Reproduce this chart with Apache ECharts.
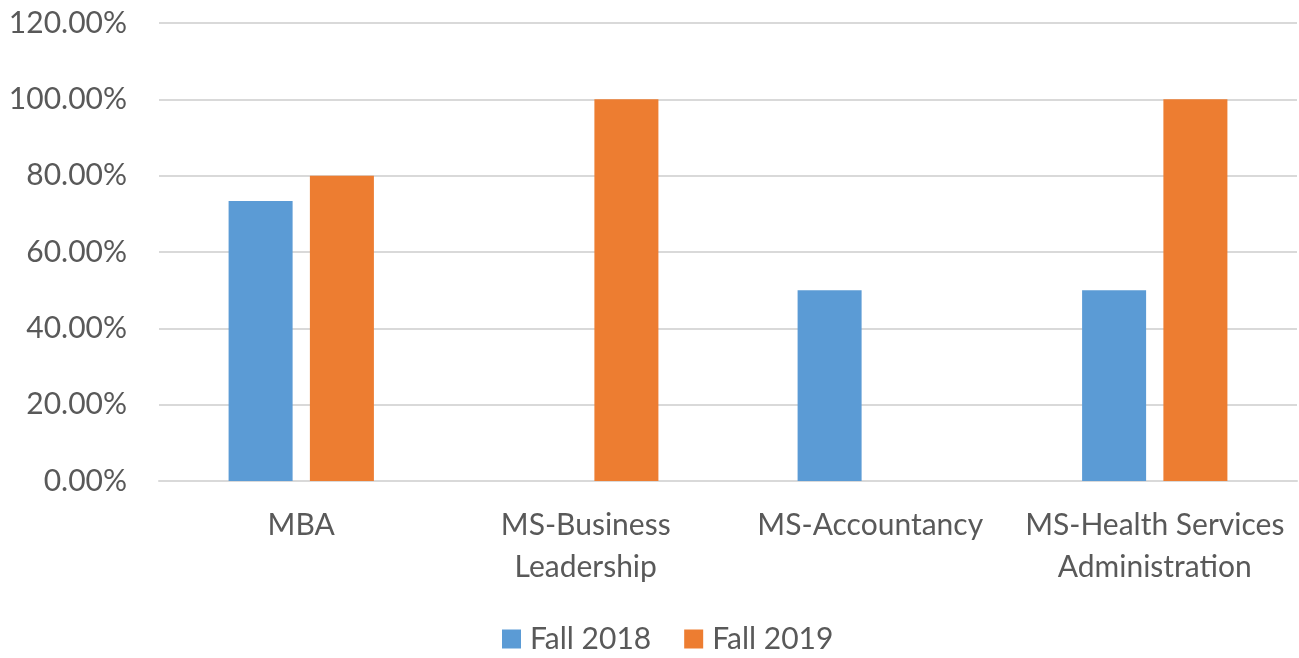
<!DOCTYPE html>
<html>
<head>
<meta charset="utf-8">
<script src="https://cdn.jsdelivr.net/npm/echarts@6/dist/echarts.min.js"></script>
<style>
  html, body { margin: 0; padding: 0; background: #fff; }
  #chart { width: 1299px; height: 658px; }
</style>
</head>
<body>
<div id="chart"></div>
<script>
// Programs shown along the category axis
const programs = ['MBA', 'MS-Business\nLeadership', 'MS-Accountancy', 'MS-Health Services\nAdministration'];
// Rates per term, in percent (null = no bar)
const fall2018 = [73.33, null, 50, 50];
const fall2019 = [80, 100, null, 100];
// Value axis range and step
const yMin = 0, yMax = 120, yStep = 20;

const font = 'Lato, "Open Sans", sans-serif';
const textColor = '#595959';
const fontSize = 30;

const chart = echarts.init(document.getElementById('chart'), null, { renderer: 'canvas' });
chart.setOption({
  animation: false,
  textStyle: { fontFamily: font },
  grid: { left: 159, right: 2, top: 23, bottom: 177, containLabel: false },
  legend: {
    top: 617,
    left: 497,
    itemWidth: 19,
    itemHeight: 19,
    itemGap: 33,
    icon: 'rect',
    textStyle: { fontFamily: font, fontSize: fontSize, color: textColor, lineHeight: 34, padding: [0, 0, 0, 4] },
    data: ['Fall 2018', 'Fall 2019']
  },
  xAxis: {
    type: 'category',
    data: programs,
    axisLine: { lineStyle: { color: '#d9d9d9', width: 2 } },
    axisTick: { show: false },
    axisLabel: {
      interval: 0,
      margin: 23,
      fontFamily: font,
      fontSize: fontSize,
      color: textColor,
      lineHeight: 42
    }
  },
  yAxis: {
    type: 'value',
    min: yMin,
    max: yMax,
    interval: yStep,
    axisLine: { show: false },
    axisTick: { show: false },
    splitLine: { lineStyle: { color: '#d9d9d9', width: 2 } },
    axisLabel: {
      margin: 32,
      fontFamily: font,
      fontSize: fontSize,
      color: textColor,
      formatter: v => v.toFixed(2) + '%'
    }
  },
  series: [
    {
      name: 'Fall 2018',
      type: 'bar',
      data: fall2018,
      barWidth: '22.5%',
      barGap: '27%',
      itemStyle: { color: '#5b9bd5' }
    },
    {
      name: 'Fall 2019',
      type: 'bar',
      data: fall2019,
      barWidth: '22.5%',
      barGap: '27%',
      itemStyle: { color: '#ed7d31' }
    }
  ]
});
</script>
</body>
</html>
